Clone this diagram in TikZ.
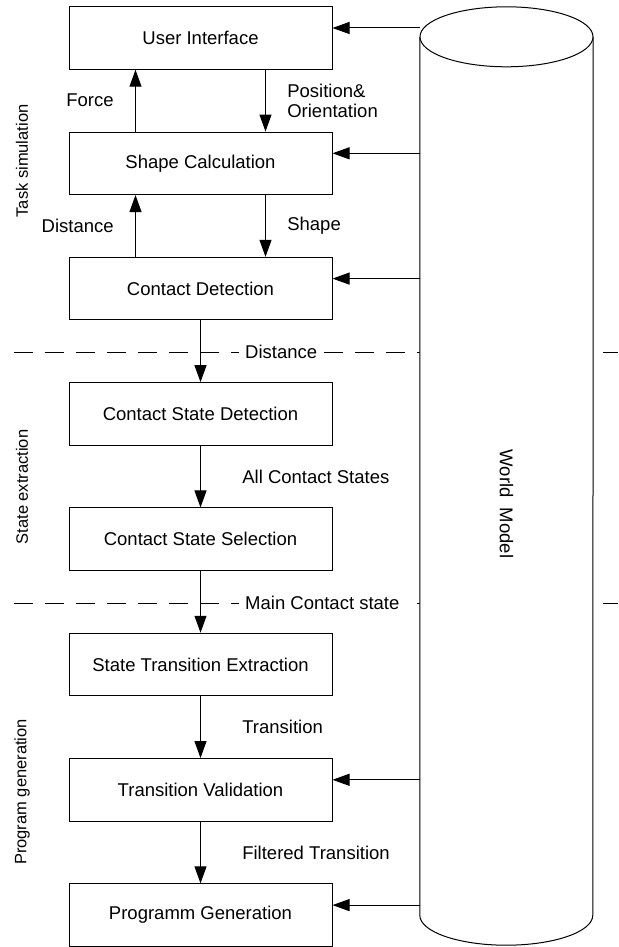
\documentclass[tikz,border=0pt]{standalone}
\usepackage{fontspec}
\setmainfont{Liberation Sans}
\usetikzlibrary{arrows.meta}

\tikzset{
  block/.style={draw, line width=1pt, minimum width=263pt, minimum height=62.5pt,
    inner sep=0pt, font=\fontsize{18.5}{20}\selectfont},
  flow/.style={line width=1pt, -{Triangle[length=17pt,width=12pt]}},
  lbl/.style={font=\fontsize{18.5}{20}\selectfont, align=left},
  sepline/.style={line width=1pt, dash pattern=on 19pt off 12pt},
  seplbl/.style={lbl, fill=white, inner xsep=6pt, inner ysep=2pt, anchor=west},
  side/.style={font=\fontsize{16.5}{18}\selectfont, rotate=90},
}

\begin{document}
\begin{tikzpicture}[x=1pt,y=-1pt]
  \useasboundingbox (0,0) rectangle (618,947);

  % stage separators
  \draw[sepline] (14,352) -- (618,352);
  \draw[sepline] (14,603) -- (618,603);

  % world model cylinder
  \node[minimum width=173pt, minimum height=878pt, inner sep=0pt] (wm) at (506.5,476) {};
  \draw[line width=1pt, fill=white] (wm.north west) -- (wm.south west)
    arc[start angle=180, end angle=360, x radius=86.5pt, y radius=30pt] -- (wm.north east);
  \draw[line width=1pt, fill=white] (wm.north) ellipse[x radius=86.5pt, y radius=30pt];
  \node[lbl, rotate=-90] (wmtext) at (506.5,504) {World\ \ Model};

  % processing blocks
  \node[block] (ui) at (200.5,38) {User Interface};
  \node[block] (sc) at (200.5,163.3) {Shape Calculation};
  \node[block] (cd) at (200.5,288.6) {Contact Detection};
  \node[block] (csd) at (200.5,413.9) {Contact State Detection};
  \node[block] (css) at (200.5,539.2) {Contact State Selection};
  \node[block] (ste) at (200.5,664.5) {State Transition Extraction};
  \node[block] (tv) at (200.5,789.8) {Transition Validation};
  \node[block] (pg) at (200.5,915.1) {Programm Generation};

  % simulation loop
  \draw[flow] ([xshift=-65pt]sc.north) -- ([xshift=-65pt]ui.south)
    node[lbl, midway, left=18pt] {Force};
  \draw[flow] ([xshift=65pt]ui.south) -- ([xshift=65pt]sc.north)
    node[lbl, midway, right=18pt] {Position\&\\Orientation};
  \draw[flow] ([xshift=65pt]sc.south) -- ([xshift=65pt]cd.north)
    node[lbl, midway, right=18pt] {Shape};
  \draw[flow] ([xshift=-65pt]cd.north) -- ([xshift=-65pt]sc.south)
    node[lbl, midway, left=18pt] {Distance};

  % main chain
  \draw[flow] (cd) -- (csd);
  \node[seplbl] (dist) at (239,352) {Distance};
  \draw[flow] (csd) -- (css) node[lbl, midway, right=38pt] {All Contact States};
  \draw[flow] (css) -- (ste);
  \node[seplbl] (mcs) at (239,603) {Main Contact state};
  \draw[flow] (ste) -- (tv) node[lbl, midway, right=38pt] {Transition};
  \draw[flow] (tv) -- (pg) node[lbl, midway, right=38pt] {Filtered Transition};

  % inputs from the world model
  \draw[flow] ([yshift=10pt]ui.east -| wm.west) -- ([yshift=10pt]ui.east);
  \draw[flow] ([yshift=10pt]sc.east -| wm.west) -- ([yshift=10pt]sc.east);
  \draw[flow] ([yshift=10pt]cd.east -| wm.west) -- ([yshift=10pt]cd.east);
  \draw[flow] ([yshift=10pt]tv.east -| wm.west) -- ([yshift=10pt]tv.east);
  \draw[flow] ([yshift=10pt]pg.east -| wm.west) -- ([yshift=10pt]pg.east);

  % stage names
  \node[side] (tsim) at (22,161) {Task simulation};
  \node[side] (sext) at (22,487) {State extraction};
  \node[side] (pgen) at (22,792) {Program generation};
\end{tikzpicture}
\end{document}
